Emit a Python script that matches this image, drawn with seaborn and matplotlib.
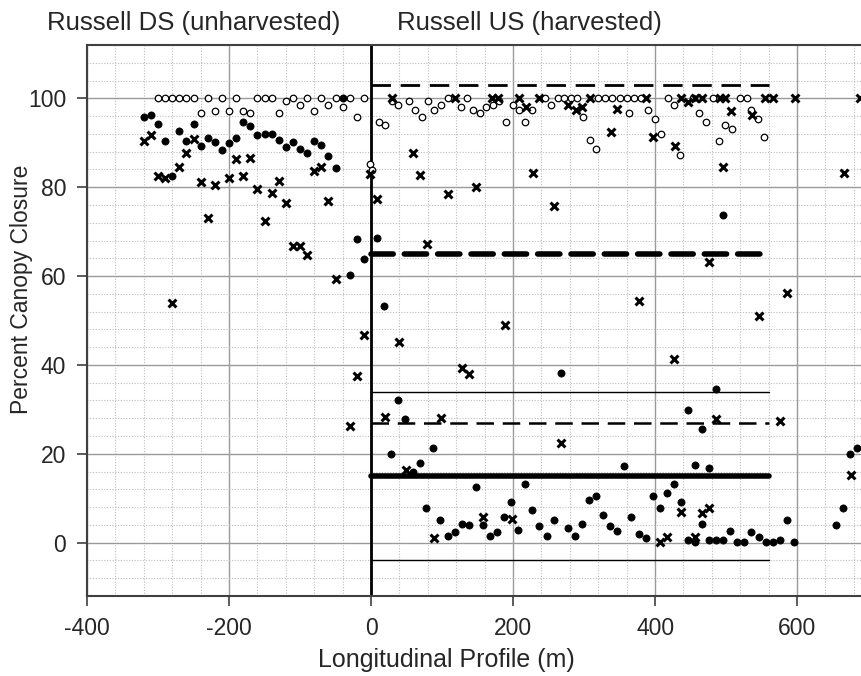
import matplotlib
matplotlib.use("Agg")
import matplotlib.pyplot as plt
from matplotlib.ticker import MultipleLocator
import seaborn as sns
import pandas as pd

# Canopy closure along the longitudinal profile (m); negative = downstream reach
open_x = [-300, -290, -280, -270, -260, -250, -240, -230, -220, -210, -200, -190, -180,
          -170, -160, -150, -140, -130, -120, -110, -100, -90, -80, -70, -60, -50, -40,
          -30, -20, -10, -1, 1.5,
          10.7, 19.7, 29.5, 38.3, 52.8, 62.2, 71.1, 80.5, 89.3, 98.7, 108.1, 126.4, 134.8,
          144.1, 153.1, 161.9, 171.8, 180.6, 189.6, 199.4, 208.7, 216.7, 226.1, 244.8,
          253.7, 263, 271.9, 280.9, 290.2, 298.6, 308, 316.9, 320, 330, 340, 350, 360,
          362.8, 370, 380, 389.9, 399.3, 408.1, 417.6, 426.4, 435.4, 454, 462.5, 471.3,
          481.2, 490.2, 499, 507.9, 520, 530, 535.1, 544.4, 553.4]
open_y = [100, 100, 100, 100, 100, 100, 96.6, 100, 97.2, 100, 97.2, 100, 97.2,
          96.6, 100, 100, 100, 96.6, 99.3, 100, 98.6, 100, 97.2, 100, 98.6, 100, 98,
          100, 95.9, 100, 85.2, 83.9,
          94.6, 94, 99.3, 98.6, 99.3, 97.3, 95.9, 99.3, 97.3, 98.6, 100, 98, 100,
          97.3, 96.6, 98, 98.6, 99.3, 94.6, 98.6, 97.3, 94.6, 97.3, 100,
          98.6, 100, 100, 100, 100, 95.9, 90.6, 88.5, 100, 100, 100, 100, 100,
          96.7, 100, 100, 97.3, 95.3, 92, 100, 98.6, 87.2, 100, 96.6, 94.6,
          100, 90.5, 93.9, 93.2, 100, 100, 97.3, 95.3, 91.2]

filled_x = [-320, -310, -300, -290, -280, -270, -260, -250, -240, -230, -220, -210, -200,
            -190, -180, -170, -160, -150, -140, -130, -120, -110, -100, -90, -80, -70, -60,
            -50, -40, -30, -20, -10,
            8.4, 18.5, 28.1, 38.3, 48.2, 58.4, 68.3, 78.1, 87.9, 97.8, 108.1, 118, 127.8,
            137.6, 147.5, 157.7, 167.6, 177.4, 187.6, 197.5, 207.3, 217.1, 227, 236.8,
            247.2, 257, 266.9, 277.1, 286.9, 296.8, 306.6, 316.9, 326.7, 336.5, 346,
            356.7, 366.6, 376.8, 386.7, 396.5, 406.3, 416.6, 426.4, 436.2, 446.1, 446.1,
            456.5, 456.5, 466.3, 466.3, 476.1, 476.1, 486, 486, 495.8, 496.2, 506, 515.9,
            525.7, 535.5, 545.8, 555.6, 565.4, 575.3, 585.7, 596, 654.9, 665.2, 675, 684.4]
filled_y = [95.9, 96.2, 94.3, 90.4, 82.6, 92.7, 90.4, 94.3, 89.3, 91.1, 90.1, 88.3, 89.9,
            91.1, 94.6, 93.8, 91.7, 92, 92, 90.6, 89, 90.1, 88.6, 87.8, 90.4, 89.6, 87,
            84.4, 100, 60.3, 68.3, 63.9,
            68.6, 53.2, 20, 32, 27.9, 15.9, 17.9, 7.9, 21.3, 5, 1.6, 2.4, 4.2,
            4, 12.5, 4, 1.4, 2.4, 5.8, 9.2, 2.9, 13.3, 7.3, 3.7,
            1.4, 5, 38.2, 3.2, 1.6, 4.2, 9.7, 10.5, 6.3, 3.7, 2.6,
            17.2, 5.8, 1.9, 1.1, 10.4, 7.8, 11.2, 13.3, 9.2, 29.9, 0.5,
            17.4, 0.2, 25.5, 4.3, 16.7, 0.7, 34.5, 0.5, 0.5, 73.7, 2.7, 0.2,
            0.2, 2.3, 1.2, 0.2, 0.2, 0.5, 5.1, 0.2, 4, 7.9, 19.9, 21.2]

cross_x = [-320, -310, -300, -290, -280, -270, -260, -250, -240, -230, -220, -200, -190,
           -180, -170, -160, -150, -140, -130, -120, -110, -100, -90, -80, -70, -60, -50,
           -30, -20, -10, -1,
           8, 19.1, 28.9, 38.8, 49.2, 58.4, 68.8, 79.1, 88.9, 98.3, 108.6, 118.4, 128.7,
           138.5, 148.3, 158.1, 170.4, 179.2, 188.2, 198, 208.3, 217.7, 228, 236.8, 257.9,
           267.3, 277.1, 288, 297.2, 309, 337.5, 347, 376.8, 387.6, 396.9, 406.7, 417.1,
           427, 427.4, 436.2, 436.8, 446.1, 456.5, 456.5, 466.7, 466.7, 476.5, 476.5, 486,
           491.6, 496.2, 498, 507, 536, 546.3, 555, 566, 575.8, 586, 596.7, 665.7, 675.6, 688]
cross_y = [90.4, 91.7, 82.6, 82.1, 53.9, 84.5, 87.8, 90.9, 81.2, 73.1, 80.5, 82.1, 86.4,
           82.6, 86.6, 79.5, 72.5, 78.6, 81.3, 76.4, 66.7, 66.8, 64.8, 83.7, 84.5, 77, 59.4,
           26.2, 37.5, 46.7, 83,
           77.4, 28.3, 100, 45.2, 16.4, 87.7, 82.7, 67.2, 1, 28, 78.5, 100, 39.2,
           37.9, 80.1, 5.8, 100, 100, 49, 5.4, 100, 98, 83.3, 100, 75.7,
           22.5, 98.6, 97.3, 98.1, 100, 92.5, 97.5, 54.4, 100, 91.2, 0.1, 1.3,
           41.4, 89.3, 100, 6.8, 99.1, 100, 1.3, 100, 6.7, 63.1, 7.7, 27.9,
           100, 84.6, 100, 97.1, 96.3, 51.1, 100, 100, 27.4, 56.3, 100, 83.1, 15.2, 100]

# Reference levels drawn across the harvested reach
ref_levels = [103, 65, 34, 27, 15, -4]
ref_start, ref_end = 0, 560

df_open = pd.DataFrame({"x": open_x, "y": open_y})
df_filled = pd.DataFrame({"x": filled_x, "y": filled_y})
df_cross = pd.DataFrame({"x": cross_x, "y": cross_y})

sns.set_style("white")
plt.rcParams["font.family"] = ["Liberation Sans", "DejaVu Sans"]
plt.rcParams["axes.unicode_minus"] = False

fig = plt.figure(figsize=(8.61, 6.76), dpi=100)
ax = fig.add_axes([87 / 861, 80 / 676, 774 / 861, 551 / 676])

ax.set_xlim(-400, 690)
ax.set_ylim(-12, 112)
ax.xaxis.set_major_locator(MultipleLocator(200))
ax.xaxis.set_minor_locator(MultipleLocator(40))
ax.yaxis.set_major_locator(MultipleLocator(20))
ax.yaxis.set_minor_locator(MultipleLocator(4))
ax.grid(which="minor", color="#bdbdbd", linestyle=(0, (1, 1.5)), linewidth=0.8, zorder=0)
ax.grid(which="major", color="#9a9a9a", linestyle="-", linewidth=1.0, zorder=0)
ax.set_axisbelow(True)

# reference lines
styles = [
    dict(color="black", linewidth=2.0, linestyle=(0, (7, 3.5))),
    dict(color="black", linewidth=4.0, linestyle=(0, (4, 2)), dash_capstyle="round"),
    dict(color="black", linewidth=1.0, linestyle="-"),
    dict(color="black", linewidth=1.8, linestyle=(0, (7, 3.5))),
    dict(color="black", linewidth=4.0, linestyle="-"),
    dict(color="black", linewidth=1.0, linestyle="-"),
]
for lvl, st in zip(ref_levels, styles):
    ax.plot([ref_start, ref_end], [lvl, lvl], zorder=2, **st)

ax.axvline(0, color="black", linewidth=2.0, zorder=2)

sns.scatterplot(data=df_open, x="x", y="y", ax=ax, marker="o", s=22,
                facecolor="white", edgecolor="black", linewidth=0.9, zorder=3)
sns.scatterplot(data=df_filled, x="x", y="y", ax=ax, marker="o", s=27,
                color="black", edgecolor="black", linewidth=0.5, zorder=4)
sns.scatterplot(data=df_cross, x="x", y="y", ax=ax, marker="x", s=32,
                color="black", linewidth=2.2, zorder=4)

for side in ["left", "bottom", "top"]:
    ax.spines[side].set_color("#404040")
    ax.spines[side].set_linewidth(1.5)
ax.spines["right"].set_visible(False)

ax.tick_params(which="major", direction="out", length=7, width=1.2, color="#404040",
               labelsize=16.5, pad=8, bottom=True, left=True)
ax.tick_params(which="minor", length=0)
ax.set_xlabel("Longitudinal Profile (m)", fontsize=18)
ax.set_ylabel("Percent Canopy Closure", fontsize=16.5)
ax.xaxis.set_label_coords((446.5 - 87) / 774, -64 / 551)
ax.yaxis.set_label_coords(-65 / 774, (596 - 289) / 551)
ax.xaxis.label.set_va("center")
ax.yaxis.label.set_va("center")

fig.text(47 / 861, 1 - 23 / 676, "Russell DS (unharvested)", fontsize=18.5,
         ha="left", va="center")
fig.text(397 / 861, 1 - 23 / 676, "Russell US (harvested)", fontsize=18.5,
         ha="left", va="center")

fig.savefig("out.png", dpi=100)
